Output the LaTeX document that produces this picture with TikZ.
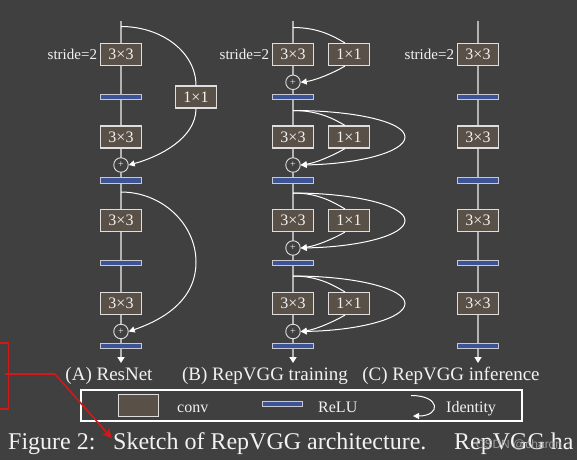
\documentclass[tikz,border=0pt]{standalone}
\usepackage{fontspec}
\setmainfont{Liberation Serif}
\newfontfamily\wmfont{Liberation Sans}
\usetikzlibrary{arrows.meta}
\definecolor{bgc}{RGB}{64,64,64}
\definecolor{convfill}{RGB}{89,80,72}
\definecolor{convdraw}{RGB}{222,222,222}
\definecolor{relufill}{RGB}{60,84,150}
\definecolor{reludraw}{RGB}{200,200,208}
\definecolor{trunkc}{RGB}{178,178,178}
\definecolor{txtc}{RGB}{242,242,242}
\definecolor{redc}{RGB}{210,24,24}
\definecolor{wmc}{RGB}{170,170,170}
\begin{document}
\begin{tikzpicture}[x=1pt,y=-1pt,
 convbox/.style={draw=convdraw, fill=convfill, line width=1.1pt, minimum width=40.5pt, minimum height=22pt, inner sep=0pt, text=txtc, font=\fontsize{16}{16}\selectfont},
 relubar/.style={draw=reludraw, fill=relufill, line width=1pt, minimum width=40.5pt, minimum height=5.5pt, inner sep=0pt},
 addnode/.style={circle, draw=convdraw, fill=bgc, line width=0.9pt, minimum size=14.5pt, inner sep=0pt, text=txtc, font=\fontsize{10}{10}\selectfont},
 trunk/.style={draw=trunkc, line width=1.8pt, -{Triangle[length=6pt,width=7pt,color=white]}},
 skipline/.style={draw=white, line width=1pt},
 skiparrow/.style={skipline, -{Triangle[length=6pt,width=6pt]}},
 stridelbl/.style={anchor=east, text=txtc, font=\fontsize{15}{15}\selectfont, inner sep=0pt, xshift=-3pt},
 colname/.style={text=txtc, font=\fontsize{19}{19}\selectfont, inner sep=0pt},
 legtext/.style={anchor=base west, text=txtc, font=\fontsize{16}{16}\selectfont, inner sep=0pt},
 captext/.style={anchor=base west, text=txtc, font=\fontsize{24}{24}\selectfont, inner sep=0pt},
 redline/.style={draw=redc, line width=1.6pt},
]
\fill[bgc] (0,0) rectangle (577,460);
\useasboundingbox (0,0) rectangle (577,460);

% ---------------- trunks ----------------
\coordinate (Atop) at (121,21);  \coordinate (Abot) at (121,363);
\coordinate (Btop) at (293,21);  \coordinate (Bbot) at (293,363);
\coordinate (Ctop) at (478,21);  \coordinate (Cbot) at (478,363);
\draw[trunk] (Atop) -- (Abot);
\draw[trunk] (Btop) -- (Bbot);
\draw[trunk] (Ctop) -- (Cbot);

% ---------------- column A ----------------
\node[convbox] (A1) at (121,54.5) {3×3};
\node[relubar] (Ar1) at (121,97) {};
\node[convbox] (A2) at (121,137) {3×3};
\node[addnode] (Ap1) at (121,165) {+};
\node[relubar] (Ar2) at (121,180.5) {};
\node[convbox] (A3) at (121,220.5) {3×3};
\node[relubar] (Ar3) at (121,263) {};
\node[convbox] (A4) at (121,303.5) {3×3};
\node[addnode] (Ap3) at (121,331.5) {+};
\node[relubar] (Ar4) at (121,346) {};
\node[convbox] (A11) at (196,97) {1×1};
\node[stridelbl] (As) at (A1.west) {stride=2};
\coordinate (Ab1) at (121,26.5);
\coordinate (Ab3) at (121,192);
\coordinate (At3) at (196,262);
\draw[skipline] (Ab1) .. controls +(41,0) and +(0,-33) .. (A11.north);
\draw[skiparrow] (A11.south) .. controls +(0,30) and +(30,-8) .. (Ap1.east);
\draw[skiparrow] (Ab3) .. controls +(41,0) and +(0,-38) .. (At3) .. controls +(0,38) and +(35,-12) .. (Ap3.east);

% ---------------- column B ----------------
\node[convbox] (B1) at (293,54.5) {3×3};
\node[convbox] (B11) at (349,54.5) {1×1};
\node[addnode] (Bp0) at (293,82.3) {+};
\node[relubar] (Br1) at (293,97) {};
\node[convbox] (B2) at (293,137) {3×3};
\node[convbox] (B21) at (349,137) {1×1};
\node[addnode] (Bp1) at (293,165) {+};
\node[relubar] (Br2) at (293,180.5) {};
\node[convbox] (B3) at (293,220.5) {3×3};
\node[convbox] (B31) at (349,220.5) {1×1};
\node[addnode] (Bp2) at (293,248) {+};
\node[relubar] (Br3) at (293,263) {};
\node[convbox] (B4) at (293,303.5) {3×3};
\node[convbox] (B41) at (349,303.5) {1×1};
\node[addnode] (Bp3) at (293,331.5) {+};
\node[relubar] (Br4) at (293,346) {};
\node[stridelbl] (Bs) at (B1.west) {stride=2};
\coordinate (Bb1) at (293,27.5);
\coordinate (Bb2) at (293,110.5);
\coordinate (Bb3) at (293,193);
\coordinate (Bb4) at (293,276);
\coordinate (Bt2) at (405,137);
\coordinate (Bt3) at (405,220.5);
\coordinate (Bt4) at (405,303.5);
% block 1
\draw[skipline] (Bb1) .. controls +(25,0) and +(-12,-7) .. ([xshift=-4pt]B11.north);
\draw[skiparrow] ([xshift=-4pt]B11.south) .. controls +(-12,7) and +(15,-2) .. (Bp0.east);
% block 2
\draw[skipline] (Bb2) .. controls +(25,0) and +(-12,-7) .. ([xshift=-4pt]B21.north);
\draw[skiparrow] ([xshift=-4pt]B21.south) .. controls +(-12,7) and +(15,-2) .. (Bp1.east);
\draw[skiparrow] (Bb2) .. controls +(62,0) and +(0,-15) .. (Bt2) .. controls +(0,15) and +(58,-1) .. (Bp1.east);
% block 3
\draw[skipline] (Bb3) .. controls +(25,0) and +(-12,-7) .. ([xshift=-4pt]B31.north);
\draw[skiparrow] ([xshift=-4pt]B31.south) .. controls +(-12,7) and +(15,-2) .. (Bp2.east);
\draw[skiparrow] (Bb3) .. controls +(62,0) and +(0,-15) .. (Bt3) .. controls +(0,15) and +(58,-1) .. (Bp2.east);
% block 4
\draw[skipline] (Bb4) .. controls +(25,0) and +(-12,-7) .. ([xshift=-4pt]B41.north);
\draw[skiparrow] ([xshift=-4pt]B41.south) .. controls +(-12,7) and +(15,-2) .. (Bp3.east);
\draw[skiparrow] (Bb4) .. controls +(62,0) and +(0,-15) .. (Bt4) .. controls +(0,15) and +(58,-1) .. (Bp3.east);

% ---------------- column C ----------------
\node[convbox] (C1) at (478,54.5) {3×3};
\node[relubar] (Cr1) at (478,97) {};
\node[convbox] (C2) at (478,137) {3×3};
\node[relubar] (Cr2) at (478,180.5) {};
\node[convbox] (C3) at (478,220.5) {3×3};
\node[relubar] (Cr3) at (478,263) {};
\node[convbox] (C4) at (478,303.5) {3×3};
\node[relubar] (Cr4) at (478,346) {};
\node[stridelbl] (Cs) at (C1.west) {stride=2};

% ---------------- column names ----------------
\node[colname] (Aname) at (109,376) {(A) ResNet};
\node[colname] (Bname) at (265,376) {(B) RepVGG training};
\node[colname] (Cname) at (451,376) {(C) RepVGG inference};

% ---------------- legend ----------------
\draw[white, line width=2pt] (81,390) rectangle (522,421);
\node[convbox, minimum height=22.5pt] (Lconv) at (138.5,405.5) {};
\node[legtext] (Lconvt) at (177,412.5) {conv};
\node[relubar] (Lrelu) at (282.5,404) {};
\node[legtext] (Lrelut) at (318,412.5) {ReLU};
\coordinate (idA) at (411,395.5);
\coordinate (idB) at (413,416);
\draw[skiparrow] (idA) .. controls +(30,0) and +(28,0) .. (idB);
\node[legtext] (Lidt) at (446,412.5) {Identity};

% ---------------- caption ----------------
\node[captext] (cap1) at (8,449) {Figure 2:};
\node[captext] (cap2) at (113,449) {Sketch of RepVGG architecture.};
\node[captext] (cap3) at (454,449) {RepVGG ha};
\node[font=\wmfont\fontsize{12}{12}\selectfont, text=wmc, opacity=0.85, inner sep=0pt] (wm) at (519,445) {CSDN @charon};

% ---------------- red annotation ----------------
\draw[redline] (0,343) -- (8.5,343) -- (8.5,409) -- (0,409);
\coordinate (rA) at (5,374);
\coordinate (rB) at (55,374);
\coordinate (rC) at (112,438.5);
\draw[redline, -{Stealth[length=10pt,width=9pt,inset=3pt]}] (rA) -- (rB) -- (rC);
\end{tikzpicture}
\end{document}
